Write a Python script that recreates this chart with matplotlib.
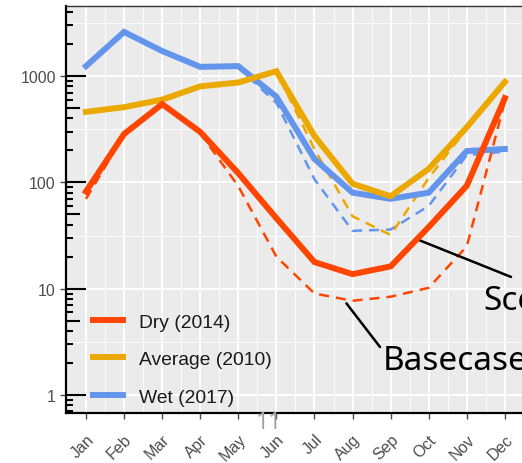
import numpy as np
import matplotlib
matplotlib.use('Agg')
import matplotlib.pyplot as plt
from matplotlib.ticker import FixedLocator, NullFormatter
from matplotlib.lines import Line2D

months = ['Jan', 'Feb', 'Mar', 'Apr', 'May', 'Jun',
          'Jul', 'Aug', 'Sep', 'Oct', 'Nov', 'Dec']

# solid = scenario, dashed = basecase
dry_scen = [82, 285, 545, 298, 122, 46, 17.8, 13.7, 16.2, 38, 93, 620]
dry_base = [70, 280, 540, 290, 92, 20, 9.0, 7.7, 8.4, 10.2, 25, 580]
avg_scen = [460, 510, 600, 800, 870, 1110, 273, 97, 74, 134, 330, 880]
avg_base = [460, 510, 600, 800, 870, 1110, 205, 48, 32, 110, 320, 880]
wet_scen = [1240, 2600, 1720, 1220, 1240, 640, 166, 80, 70, 80, 197, 206]
wet_base = [1240, 2600, 1720, 1220, 1200, 560, 107, 35, 36, 60, 180, 195]

labels = ['Dry (2014)', 'Average (2010)', 'Wet (2017)']
colors = ['#FF4500', '#EBA800', '#6495ED']

W, H = 522, 464
fig = plt.figure(figsize=(W / 100, H / 100), dpi=100)
ax = fig.add_axes([66 / W, 1 - 414 / H, (W - 66) / W, (414 - 7) / H])
ax.set_facecolor('#EBEBEB')

x = np.arange(1, 13)
series = [(dry_scen, dry_base), (avg_scen, avg_base), (wet_scen, wet_base)]
order = [2, 1, 0]
for i in order:
    scen, base = series[i]
    ax.plot(x, base, color=colors[i], lw=1.8, dashes=(4, 2.8), zorder=3)
for i in order:
    scen, base = series[i]
    ax.plot(x, scen, color=colors[i], lw=4.3, zorder=4, solid_joinstyle='miter')

ax.set_yscale('log')
ax.set_xlim(0.475, 12.45)
ax.set_ylim(0.677, 4560)

ax.set_xticks(x)
ax.set_xticklabels(months, rotation=45, ha='right', va='top',
                   rotation_mode='anchor')
ax.xaxis.set_minor_locator(FixedLocator(x[:-1] + 0.5))
ax.yaxis.set_major_locator(FixedLocator([1, 10, 100, 1000]))
ax.set_yticklabels(['1', '10', '100', '1000'])
ax.yaxis.set_minor_locator(FixedLocator([10 ** (k + 0.5) for k in range(-1, 4)]))
ax.yaxis.set_minor_formatter(NullFormatter())

for lab in ax.get_xticklabels() + ax.get_yticklabels():
    lab.set_fontfamily('Liberation Sans')
    lab.set_fontsize(11.5)
    lab.set_color('#4D4D4D')

ax.tick_params(axis='both', which='major', direction='out', length=4.3,
               width=1.0, color='#4D4D4D')
ax.tick_params(axis='x', which='major', pad=9)
ax.tick_params(axis='y', which='major', pad=3)
ax.tick_params(which='minor', length=0)

ax.grid(which='major', color='white', lw=1.3)
ax.grid(which='minor', color='white', lw=0.6)
ax.set_axisbelow(True)

for s in ['left', 'bottom']:
    ax.spines[s].set_color('black')
    ax.spines[s].set_linewidth(1.6)
ax.spines['top'].set_color('#333333')
ax.spines['top'].set_linewidth(1.0)
ax.spines['right'].set_visible(False)

# log ticks drawn inside the panel
axw = (W - 66)
tick_vals, tick_lens = [], []
for dec in range(-1, 4):
    for m in range(1, 10):
        v = m * 10.0 ** dec
        if 0.677 <= v <= 4560:
            tick_vals.append(v)
            tick_lens.append((20 if m == 1 else 14 if m == 5 else 7) / axw)
ax.hlines(tick_vals, 0, tick_lens, transform=ax.get_yaxis_transform(),
          color='black', lw=1.5, zorder=2)

handles = [Line2D([], [], color=c, lw=4.3) for c in colors]
leg = ax.legend(handles, labels, loc='upper left', bbox_to_anchor=(0.059, 0.245),
                frameon=False, borderpad=0, borderaxespad=0, handlelength=1.55,
                handletextpad=0.83, labelspacing=1.03,
                prop={'family': 'Liberation Sans', 'size': 13.9})
for t in leg.get_texts():
    t.set_color('#1A1A1A')


def on_line(vals, xpos):
    # point on a log-scale polyline at fractional month position
    lv = np.log10(vals)
    return 10 ** np.interp(xpos, x, lv)


ax.annotate('', xy=(9.69, on_line(dry_scen, 9.69)), xycoords='data',
            xytext=(0.979, 0.401), textcoords='figure fraction',
            arrowprops=dict(arrowstyle='-', color='black', lw=1.8,
                            shrinkA=0, shrinkB=0))
ax.annotate('', xy=(7.75, on_line(dry_base, 7.75)), xycoords='data',
            xytext=(0.728, 0.25), textcoords='figure fraction',
            arrowprops=dict(arrowstyle='-', color='black', lw=1.8,
                            shrinkA=0, shrinkB=4))

fig.text(0.925, 0.332, 'Scenario', fontsize=24, family='Noto Sans',
         va='baseline', color='black')
fig.text(0.734, 0.203, 'Basecase', fontsize=24, family='Noto Sans',
         va='baseline', color='black')
fig.text(0.49, 0.075, '11', fontsize=16.5, family='Noto Sans',
         va='baseline', color='#A0A0A0')

fig.savefig('out.png', dpi=100)
